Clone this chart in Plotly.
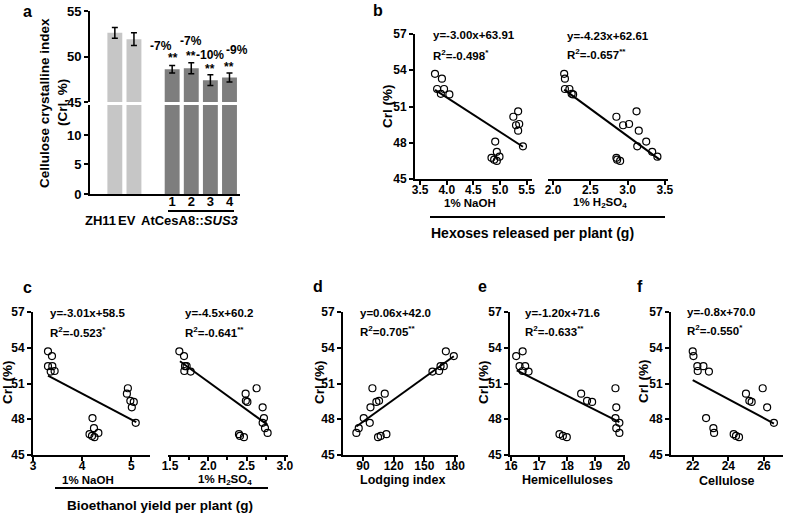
import plotly.graph_objects as go

W, H = 785, 515

# ---------------- data ----------------
# panel a
a_categories = ["ZH11", "EV", "gap", "1", "2", "3", "4"]
a_controls = ["ZH11", "EV"]
a_cri_mean = [52.6, 51.9, None, 48.6, 48.7, 47.4, 47.7]
a_cri_err = [0.6, 0.7, None, 0.4, 0.6, 0.6, 0.5]
a_tick_labels = ["1", "2", "3", "4"]
a_change_labels = ["-7%", "-7%", "-10%", "-9%"]
a_sig_labels = ["**", "**", "**", "**"]

# shared CrI values (18 samples)
cri = [53.7, 53.3, 52.45, 52.45, 52.05, 52.0,
       50.6, 50.15, 49.55, 49.45, 49.0, 47.7,
       48.1, 47.25, 46.85, 46.75, 46.6, 46.5]

hexose_naoh = [3.78, 3.91, 3.82, 3.95, 3.89, 4.05,
               5.34, 5.25, 5.36, 5.30, 5.34, 5.43,
               4.91, 4.94, 4.99, 4.84, 4.89, 4.94]
hexose_h2so4 = [2.15, 2.16, 2.16, 2.22, 2.25, 2.27,
                3.12, 2.85, 3.02, 2.94, 3.15, 3.13,
                3.25, 3.33, 3.40, 2.85, 2.86, 2.90]
ethanol_naoh = [3.305, 3.386, 3.305, 3.393, 3.44, 3.36,
                4.93, 4.91, 4.98, 5.05, 5.01, 5.09,
                4.21, 4.24, 4.33, 4.15, 4.20, 4.25]
ethanol_h2so4 = [1.622, 1.683, 1.696, 1.717, 1.687, 1.77,
                 2.63, 2.487, 2.49, 2.51, 2.709, 2.709,
                 2.726, 2.74, 2.774, 2.40, 2.413, 2.465]
lodging = [171.1, 178.9, 165.9, 169.1, 164.5, 158.0,
           99.2, 111.3, 105.7, 103.1, 97.3, 96.6,
           90.7, 85.8, 83.5, 112.9, 107.3, 104.7]
hemicellulose = [16.41, 16.18, 16.30, 16.50, 16.41, 16.62,
                 19.71, 18.49, 18.70, 18.88, 19.74, 19.85,
                 19.71, 19.74, 19.85, 17.72, 17.84, 17.98]
cellulose = [22.0, 22.04, 22.26, 22.6, 22.28, 22.91,
             25.93, 24.99, 25.18, 25.31, 26.18, 26.56,
             22.75, 23.16, 23.2, 24.3, 24.43, 24.6]

# fitted lines (endpoints)
fit_hexose_naoh_x = [3.78, 5.43];   fit_hexose_naoh_y = [52.37, 47.67]
fit_hexose_h2so4_x = [2.15, 3.43];  fit_hexose_h2so4_y = [52.4, 46.6]
fit_ethanol_naoh_x = [3.305, 5.1];  fit_ethanol_naoh_y = [51.66, 47.75]
fit_ethanol_h2so4_x = [1.63, 2.774]; fit_ethanol_h2so4_y = [52.87, 47.53]
fit_lodging_x = [83.5, 178.9];      fit_lodging_y = [47.39, 53.29]
fit_hemi_x = [16.2, 19.85];         fit_hemi_y = [52.1, 47.76]
fit_cell_x = [22.0, 26.56];         fit_cell_y = [51.28, 47.64]

eq_texts = {
    "b1": ("y=-3.00x+63.91", "R<sup>2</sup>=-0.498<sup>*</sup>"),
    "b2": ("y=-4.23x+62.61", "R<sup>2</sup>=-0.657<sup>**</sup>"),
    "c1": ("y=-3.01x+58.5", "R<sup>2</sup>=-0.523<sup>*</sup>"),
    "c2": ("y=-4.5x+60.2", "R<sup>2</sup>=-0.641<sup>**</sup>"),
    "d": ("y=0.06x+42.0", "R<sup>2</sup>=0.705<sup>**</sup>"),
    "e": ("y=-1.20x+71.6", "R<sup>2</sup>=-0.633<sup>**</sup>"),
    "f": ("y=-0.8x+70.0", "R<sup>2</sup>=-0.550<sup>*</sup>"),
}

# ---------------- helpers ----------------
def dx(x0, x1):
    return [x0 / W, x1 / W]

def dy(top, bottom):
    return [1 - bottom / H, 1 - top / H]

def px(x):
    return x / W

def py(y):
    return 1 - y / H

BASE_AX = dict(showline=True, linewidth=2, linecolor="black", ticks="outside",
               ticklen=4, tickwidth=2, tickcolor="black", showgrid=False,
               zeroline=False, automargin=False,
               tickfont=dict(size=12, color="black"))

def ax(**kw):
    d = dict(BASE_AX)
    d.update(kw)
    return d

def xax(**kw):
    return ax(ticklabelstandoff=-5, **kw)

fig = go.Figure()

# ---------------- panel a ----------------
LIGHT, DARK = "#c6c6c6", "#7e7e7e"
bar_colors = [LIGHT if c in a_controls else DARK for c in a_categories]
for yname in ["y", "y2"]:
    fig.add_trace(go.Bar(
        x=a_categories, y=a_cri_mean, xaxis="x", yaxis=yname,
        marker=dict(color=bar_colors, line=dict(width=0)),
        width=0.78, showlegend=False,
        error_y=(dict(type="data", array=a_cri_err, color="black", thickness=1.5, width=3)
                 if yname == "y2" else dict(visible=False)),
    ))

# ---------------- scatter panels ----------------
scatter_sets = [
    ("x3", "y3", hexose_naoh, fit_hexose_naoh_x, fit_hexose_naoh_y),
    ("x4", "y4", hexose_h2so4, fit_hexose_h2so4_x, fit_hexose_h2so4_y),
    ("x5", "y5", ethanol_naoh, fit_ethanol_naoh_x, fit_ethanol_naoh_y),
    ("x6", "y6", ethanol_h2so4, fit_ethanol_h2so4_x, fit_ethanol_h2so4_y),
    ("x7", "y7", lodging, fit_lodging_x, fit_lodging_y),
    ("x8", "y8", hemicellulose, fit_hemi_x, fit_hemi_y),
    ("x9", "y9", cellulose, fit_cell_x, fit_cell_y),
]
for xa, ya, xs, fx, fy in scatter_sets:
    fig.add_trace(go.Scatter(x=fx, y=fy, xaxis=xa, yaxis=ya, mode="lines",
                             line=dict(color="black", width=2), showlegend=False,
                             cliponaxis=False))
    fig.add_trace(go.Scatter(x=xs, y=cri, xaxis=xa, yaxis=ya, mode="markers",
                             marker=dict(symbol="circle-open", size=7,
                                         color="black", line=dict(width=1.2)),
                             showlegend=False, cliponaxis=False))

TOP = dy(34, 179)
BOT = dy(312, 455)
ydef = dict(range=[45, 57], tickvals=[45, 48, 51, 54, 57])

layout_axes = dict(
    xaxis=ax(domain=dx(90, 240), type="category", categoryarray=a_categories,
             categoryorder="array", range=[-1.3, 6.55], anchor="y", ticks="",
             tickvals=a_tick_labels, ticktext=a_tick_labels, ticklabelstandoff=-6,
             tickfont=dict(size=13, color="black")),
    yaxis=ax(domain=dy(105, 194), range=[0, 15.08], tickvals=[0, 5, 10], anchor="x",
             tickfont=dict(size=13, color="black")),
    yaxis2=ax(domain=dy(11, 102), range=[45, 55], tickvals=[45, 50, 55], anchor="x",
              tickfont=dict(size=13, color="black")),
    xaxis3=xax(domain=dx(415, 532), range=[3.405, 5.6], tickvals=[3.5, 4.0, 4.5, 5.0, 5.5],
               tickformat=".1f", anchor="y3"),
    yaxis3=ax(domain=TOP, anchor="x3", **ydef),
    xaxis4=xax(domain=dx(548, 668), range=[1.933, 3.542], tickvals=[2.0, 2.5, 3.0, 3.5],
               tickformat=".1f", anchor="y4"),
    yaxis4=dict(domain=TOP, anchor="x4", range=[45, 57], visible=False, automargin=False),
    xaxis5=xax(domain=dx(33, 150), range=[3, 5.38], tickvals=[3, 4, 5], anchor="y5"),
    yaxis5=ax(domain=BOT, anchor="x5", **ydef),
    xaxis6=xax(domain=dx(168, 288), range=[1.474, 3.04], tickvals=[1.5, 2.0, 2.5, 3.0],
               tickformat=".1f", anchor="y6",
               minor=dict(dtick=0.25, ticks="outside", ticklen=3, tickwidth=1.5,
                          tickcolor="black")),
    yaxis6=dict(domain=BOT, anchor="x6", range=[45, 57], visible=False, automargin=False),
    xaxis7=xax(domain=dx(343, 458), range=[70.4, 183], tickvals=[90, 120, 150, 180], anchor="y7"),
    yaxis7=ax(domain=BOT, anchor="x7", **ydef),
    xaxis8=xax(domain=dx(510, 625), range=[15.96, 20.05], tickvals=[16, 17, 18, 19, 20], anchor="y8"),
    yaxis8=ax(domain=BOT, anchor="x8", **ydef),
    xaxis9=xax(domain=dx(671, 783), range=[20.78, 27.07], tickvals=[22, 24, 26], anchor="y9"),
    yaxis9=ax(domain=BOT, anchor="x9", **ydef),
)

# ---------------- annotations ----------------
ann = []

def text(x, y, s, size=12, xanchor="center", angle=0):
    ann.append(dict(x=px(x), y=py(y), xref="paper", yref="paper", text=s,
                    showarrow=False, xanchor=xanchor, yanchor="middle",
                    textangle=angle, font=dict(size=size, color="black")))

# panel letters
for lab, x, y in [("a", 27, 12), ("b", 378, 11), ("c", 27, 287),
                  ("d", 318, 286), ("e", 482, 286), ("f", 640, 286)]:
    text(x, y, lab, size=16)

# panel a labels
text(45, 103, "Cellulose crystalline index", size=13.5, angle=-90)
text(63, 103, "(CrI, %)", size=13.5, angle=-90)
text(100, 220, "ZH11", size=13)
text(127, 220, "EV", size=13)
text(190, 220, "AtCesA8::<i>SUS3</i>", size=13)

change_shift = [(-11, 11), (0, 13), (0, 11), (8, 14)]
sig_shift = [(1, -1), (0, -2), (0, -3), (0, -3)]
trans = [c for c in a_categories if c not in a_controls and c != "gap"]
for i, cat in enumerate(trans):
    k = a_categories.index(cat)
    top = a_cri_mean[k] + a_cri_err[k]
    ann.append(dict(x=k, y=top, xref="x", yref="y2", text=a_sig_labels[i],
                    showarrow=False, yanchor="bottom", xshift=sig_shift[i][0],
                    yshift=sig_shift[i][1], font=dict(size=12, color="black")))
    ann.append(dict(x=k, y=top, xref="x", yref="y2", text=a_change_labels[i],
                    showarrow=False, yanchor="bottom", xshift=change_shift[i][0],
                    yshift=change_shift[i][1], font=dict(size=12, color="black")))

# y titles
for x, y in [(387, 106), (7, 382), (319, 382), (483, 382), (643, 381)]:
    text(x, y, "CrI (%)", size=13.5, angle=-90)

# equations
for key, x, y1, y2 in [("b1", 431, 35, 55), ("b2", 565, 36, 54),
                       ("c1", 48, 313, 332), ("c2", 183, 313, 332),
                       ("d", 358, 313, 331), ("e", 523, 313, 331),
                       ("f", 685, 312, 330)]:
    text(x, y1, eq_texts[key][0], size=11.5, xanchor="left")
    text(x, y2, eq_texts[key][1], size=11.5, xanchor="left")

# x titles
text(470, 203, "1% NaOH", size=11.5)
text(600, 203, "1% H<sub>2</sub>SO<sub>4</sub>", size=11.5)
text(532, 233, "Hexoses released per plant (g)", size=14)
text(88, 480, "1% NaOH", size=11.5)
text(225, 480, "1% H<sub>2</sub>SO<sub>4</sub>", size=11.5)
text(160, 505, "Bioethanol yield per plant (g)", size=13.5)
text(402, 480, "Lodging index", size=12.5)
text(567, 480, "Hemicelluloses", size=12.5)
text(727, 481, "Cellulose", size=12.5)

shapes = []
for x0, x1, y in [(168, 234, 211), (430, 665, 217), (55, 268, 488)]:
    shapes.append(dict(type="line", xref="paper", yref="paper",
                       x0=px(x0), x1=px(x1), y0=py(y), y1=py(y),
                       line=dict(color="black", width=2)))

fig.update_layout(
    width=W, height=H, margin=dict(l=0, r=0, t=0, b=0, pad=0, autoexpand=False),
    paper_bgcolor="white", plot_bgcolor="white",
    font=dict(family="Arial, Liberation Sans, sans-serif", weight="bold",
              color="black", size=12),
    showlegend=False, bargap=0.22,
    annotations=ann, shapes=shapes,
    **layout_axes,
)

fig.write_html("out.html", config={"displayModeBar": False},
               post_script="document.body.style.margin='0';document.body.style.overflow='hidden';")
